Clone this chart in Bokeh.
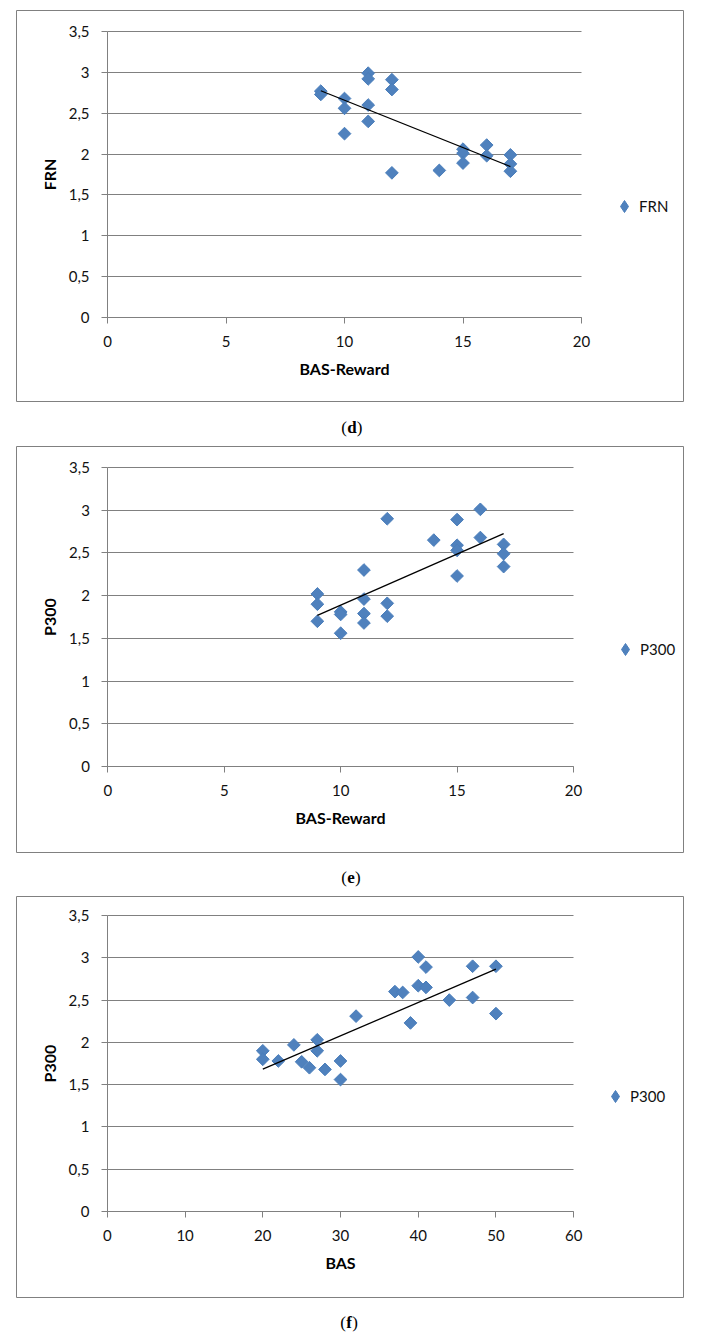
import numpy as np
from bokeh.plotting import figure
from bokeh.models import Range1d, FixedTicker, CustomJSTickFormatter, Legend, LegendItem, Label
from bokeh.layouts import column
from bokeh.embed import file_html
from bokeh.resources import INLINE

# ---------------- data ----------------
# (d) FRN vs BAS-Reward
d_bas_reward = [9, 9, 10, 10, 10, 11, 11, 11, 11, 12, 12, 12, 14, 15, 15, 15, 16, 16, 17, 17, 17]
d_frn = [2.77, 2.73, 2.68, 2.56, 2.25, 2.99, 2.92, 2.60, 2.40, 2.91, 2.79, 1.77, 1.80,
         2.06, 2.01, 1.89, 2.11, 1.98, 1.99, 1.88, 1.79]

# (e) P300 vs BAS-Reward
e_bas_reward = [9, 9, 9, 10, 10, 10, 11, 11, 11, 11, 12, 12, 12, 14, 15, 15, 15, 15, 16, 16, 17, 17, 17]
e_p300 = [2.02, 1.90, 1.70, 1.81, 1.78, 1.56, 2.30, 1.96, 1.79, 1.68, 2.90, 1.91, 1.76, 2.65,
          2.89, 2.59, 2.53, 2.23, 3.01, 2.68, 2.60, 2.49, 2.34]

# (f) P300 vs BAS
f_bas = [20, 20, 22, 24, 25, 26, 27, 27, 28, 30, 30, 32, 37, 38, 39, 40, 40, 41, 41, 44, 47, 47, 50, 50]
f_p300 = [1.90, 1.80, 1.78, 1.97, 1.77, 1.70, 2.03, 1.90, 1.68, 1.78, 1.56, 2.31, 2.60, 2.59,
          2.23, 3.01, 2.67, 2.89, 2.65, 2.50, 2.90, 2.53, 2.90, 2.34]

y_ticks = [0, 0.5, 1, 1.5, 2, 2.5, 3, 3.5]
x_ticks_reward = [0, 5, 10, 15, 20]
x_ticks_bas = [0, 10, 20, 30, 40, 50, 60]

# ---------------- styling ----------------
FONT = "Lato"
SERIF = "Liberation Serif"
GRID = "#808080"
AXIS = "#808080"
BLUE = "#4F81BD"
BLUE_EDGE = "#4A7EBB"
PAGE_W = 702


def make_panel(xs, ys, xticks, xlabel, ylabel, series,
               box, px_x0, px_xmax, px_ymax, px_y0, canvas, leg):
    bl, bt, br, bb = box
    ct, cb = canvas
    xmax = xticks[-1]
    ymax = y_ticks[-1]
    sx = (px_xmax - px_x0) / xmax
    sy = (px_y0 - px_ymax) / ymax
    x_start = -(px_x0 - bl) / sx
    x_end = xmax + (br - px_xmax) / sx
    y_start = -(bb - px_y0) / sy
    y_end = ymax + (px_ymax - bt) / sy

    p = figure(width=PAGE_W, height=cb - ct,
               x_range=Range1d(x_start, x_end), y_range=Range1d(y_start, y_end),
               toolbar_location=None, output_backend="svg", title=None,
               min_border_left=bl, min_border_right=PAGE_W - br,
               min_border_top=bt - ct, min_border_bottom=cb - bb)
    p.background_fill_color = "white"
    p.border_fill_color = "white"
    p.outline_line_color = AXIS
    p.outline_line_width = 1

    fmt = CustomJSTickFormatter(code="return tick.toString().replace('.', ',');")
    for ax, ticks in ((p.xaxis, xticks), (p.yaxis, y_ticks)):
        ax.fixed_location = 0
        ax.ticker = FixedTicker(ticks=ticks)
        ax.formatter = fmt
        ax.axis_line_color = AXIS
        ax.major_tick_line_color = AXIS
        ax.minor_tick_line_color = None
        ax.major_tick_in = 0
        ax.major_tick_out = 6
        ax.major_label_text_font = FONT
        ax.major_label_text_font_size = "15px"
        ax.major_label_text_color = "#111111"
        ax.axis_label_text_font = FONT
        ax.axis_label_text_font_size = "16px"
        ax.axis_label_text_font_style = "bold"
        ax.axis_label_text_color = "#000000"
    p.xaxis.bounds = (0, xmax)
    p.yaxis.bounds = (0, ymax)
    p.xaxis.axis_label = xlabel
    p.yaxis.axis_label = ylabel
    p.xaxis.major_label_standoff = 12
    p.yaxis.major_label_standoff = 12
    p.xaxis.axis_label_standoff = 9
    p.yaxis.axis_label_standoff = 7

    p.xgrid.visible = False
    p.ygrid.grid_line_color = GRID
    p.ygrid.grid_line_width = 1.1
    p.ygrid.cross_bounds = (0, xmax)

    p.scatter(xs, ys, marker="square", angle=np.pi / 4, size=9,
              fill_color=BLUE, line_color=BLUE_EDGE, line_width=1)

    k, b = np.polyfit(xs, ys, 1)
    xa = np.array([min(xs), max(xs)], dtype=float)
    p.line(xa, k * xa + b, line_color="black", line_width=1.3)

    # legend key: a renderer holding no drawable point, only used for the legend symbol
    key = p.scatter(np.array([np.nan]), np.array([np.nan]), marker="diamond",
                    fill_color=BLUE, line_color=BLUE_EDGE, line_width=1)
    gw = 30
    lcx, lcy = leg
    legend = Legend(items=[LegendItem(label=series, renderers=[key])],
                    location=(lcx - gw / 2 - bl, bb - (lcy + gw / 2)),
                    glyph_width=gw, glyph_height=gw, label_standoff=0,
                    padding=0, margin=0, spacing=0,
                    border_line_color=None, background_fill_alpha=0,
                    label_text_font=FONT, label_text_font_size="15px",
                    label_text_color="#111111")
    p.add_layout(legend)
    return p


def make_caption(letter, letter_w, canvas, cap):
    ct, cb = canvas
    h = cb - ct
    c = figure(width=PAGE_W, height=h, x_range=Range1d(0, PAGE_W), y_range=Range1d(0, h),
               toolbar_location=None, output_backend="svg", title=None,
               x_axis_location=None, y_axis_location=None, min_border=0)
    c.xgrid.visible = False
    c.ygrid.visible = False
    c.outline_line_color = None
    c.background_fill_color = "white"
    c.border_fill_color = "white"
    cx, cy = cap
    y = h - (cy - ct)
    common = dict(y=y, text_baseline="middle", text_font=SERIF, text_font_size="17px",
                  text_color="#000000")
    c.add_layout(Label(x=cx, text=letter, text_align="center", text_font_style="bold", **common))
    c.add_layout(Label(x=cx - letter_w / 2 - 0.5, text="(", text_align="right", **common))
    c.add_layout(Label(x=cx + letter_w / 2 + 0.5, text=")", text_align="left", **common))
    return c


pd_ = make_panel(d_bas_reward, d_frn, x_ticks_reward, "BAS-Reward", "FRN", "FRN",
                 box=(16, 10, 683, 401), px_x0=107, px_xmax=581, px_ymax=31, px_y0=317,
                 canvas=(0, 404), leg=(624, 206))
cd_ = make_caption("d", 9.4, canvas=(404, 444), cap=(353, 427))
pe_ = make_panel(e_bas_reward, e_p300, x_ticks_reward, "BAS-Reward", "P300", "P300",
                 box=(9, 446, 688, 852), px_x0=102, px_xmax=576, px_ymax=467, px_y0=766,
                 canvas=(444, 856), leg=(618, 649))
ce_ = make_caption("e", 7.5, canvas=(856, 893), cap=(352, 877))
pf_ = make_panel(f_bas, f_p300, x_ticks_bas, "BAS", "P300", "P300",
                 box=(16, 896, 684, 1297), px_x0=107, px_xmax=574, px_ymax=915, px_y0=1211,
                 canvas=(893, 1300), leg=(615, 1096))
cf_ = make_caption("f", 5.7, canvas=(1300, 1338), cap=(350, 1322))

layout = column(pd_, cd_, pe_, ce_, pf_, cf_, spacing=0)
open("out.html", "w").write(file_html(layout, INLINE))
